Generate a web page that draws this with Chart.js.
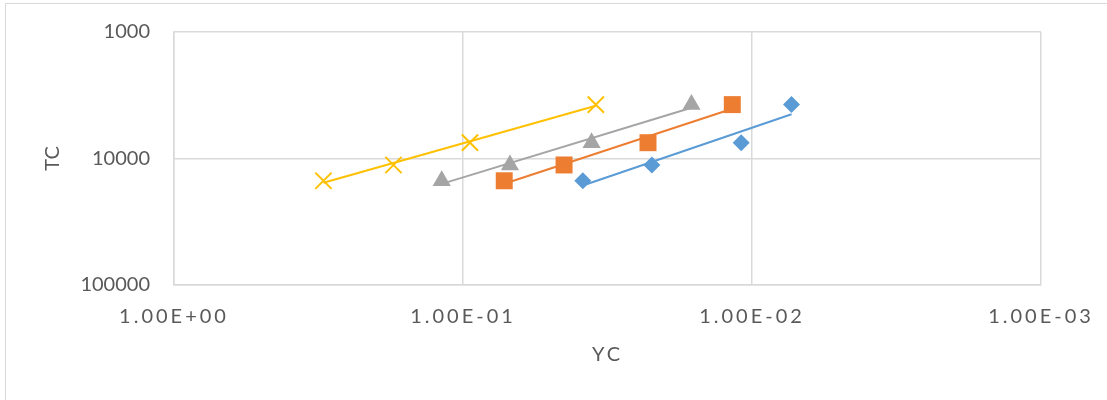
<!DOCTYPE html>
<html>
<head>
<meta charset="utf-8">
<script src="https://cdn.jsdelivr.net/npm/chart.js@4/dist/chart.umd.min.js"></script>
<style>
    html, body { margin: 0; padding: 0; background: #fff; overflow: hidden; }
    #wrap { position: relative; width: 1107px; height: 400px; }
    #frame {
        position: absolute; left: 5px; top: 3px; width: 1110px; height: 410px;
        border: 1px solid #d9d9d9; box-sizing: border-box;
    }
    #myChart { position: absolute; left: 0; top: 0; }
</style>
</head>
<body>
<div id="wrap">
    <div id="frame"></div>
    <canvas id="myChart" width="1107" height="400"></canvas>
</div>
<script>
// TC values shared by all four series
const tcValues = [15000, 11250, 7500, 3750];

// YC per series
const ycBlue = [0.0385, 0.0222, 0.0109, 0.0073];
const ycOrange = [0.072, 0.0447, 0.0229, 0.0117];
const ycGray = [0.1185, 0.0688, 0.0359, 0.0162];
const ycYellow = [0.304, 0.174, 0.0946, 0.0347];

const xTickValues = [1, 0.1, 0.01, 0.001];
const yTickValues = [1000, 10000, 100000];

const SERIES = [
    { name: 'S1', yc: ycBlue, color: '#5B9BD5', style: 'rectRot', radius: 8.5 },
    { name: 'S2', yc: ycOrange, color: '#ED7D31', style: 'rect', radius: 12 },
    { name: 'S3', yc: ycGray, color: '#A5A5A5', style: 'triangle', radius: 10.5 },
    { name: 'S4', yc: ycYellow, color: '#FFC000', style: 'crossRot', radius: 11.5 }
];

// Excel style "1.00E-01"
function sci(v) {
    const parts = v.toExponential(2).split('e');
    const exp = Number.parseInt(parts[1], 10);
    const sign = exp < 0 ? '-' : '+';
    return parts[0] + 'E' + sign + String(Math.abs(exp)).padStart(2, '0');
}

// power trendline: least squares on log-log, drawn across the x range of the data
function powerFit(xs, ys) {
    const lx = xs.map(Math.log10), ly = ys.map(Math.log10);
    const n = lx.length;
    const mx = lx.reduce((a, b) => a + b, 0) / n;
    const my = ly.reduce((a, b) => a + b, 0) / n;
    let sxy = 0, sxx = 0;
    for (let i = 0; i < n; i++) {
        sxy += (lx[i] - mx) * (ly[i] - my);
        sxx += (lx[i] - mx) * (lx[i] - mx);
    }
    const b = sxy / sxx;
    const a = my - b * mx;
    const lo = Math.min(...xs), hi = Math.max(...xs);
    return [lo, hi].map(x => ({ x: x, y: Math.pow(10, a + b * Math.log10(x)) }));
}

// log scale whose labels and title can be letter-spaced (the x axis text is spread out)
class SpacedLogScale extends Chart.LogarithmicScale {
    static id = 'spacedLog';
    static defaults = Chart.LogarithmicScale.defaults;
    drawLabels(chartArea) {
        const ctx = this.ctx;
        ctx.save();
        ctx.letterSpacing = this.options.spacing || '0px';
        super.drawLabels(chartArea);
        ctx.restore();
    }
    drawTitle() {
        const ctx = this.ctx;
        ctx.save();
        ctx.letterSpacing = this.options.spacing || '0px';
        super.drawTitle();
        ctx.restore();
    }
}
Chart.register(SpacedLogScale);

const datasets = [];
SERIES.forEach(s => {
    datasets.push({
        label: s.name,
        data: s.yc.map((x, i) => ({ x: x, y: tcValues[i] })),
        showLine: false,
        pointStyle: s.style,
        pointRadius: s.radius,
        pointBackgroundColor: s.color,
        pointBorderColor: s.color,
        pointBorderWidth: s.style === 'crossRot' ? 2 : 0,
        order: 1
    });
    datasets.push({
        label: s.name + ' trend',
        data: powerFit(s.yc, tcValues),
        showLine: true,
        borderColor: s.color,
        borderWidth: 2,
        pointRadius: 0,
        fill: false,
        order: 0
    });
});

const tickFont = { family: 'Lato', size: 20 };
const GRID = '#d9d9d9';

const chart = new Chart(document.getElementById('myChart').getContext('2d'), {
    type: 'scatter',
    data: { datasets: datasets },
    options: {
        responsive: false,
        animation: false,
        layout: { padding: { top: 32, right: 66, left: 0, bottom: 0 } },
        plugins: { legend: { display: false }, tooltip: { enabled: false } },
        scales: {
            x: {
                type: 'spacedLog',
                spacing: '3px',
                reverse: true,
                min: 0.001,
                max: 1,
                afterBuildTicks: s => { s.ticks = xTickValues.map(v => ({ value: v })); },
                afterFit: s => { s.height = 115; },
                grid: { color: GRID, lineWidth: 1.5, drawTicks: false },
                border: { color: GRID, width: 1.5 },
                ticks: {
                    color: '#595959', font: tickFont, padding: 20,
                    maxRotation: 0, autoSkip: false,
                    callback: v => sci(v)
                },
                title: {
                    display: true, text: 'YC', color: '#595959',
                    font: { family: 'Lato', size: 20 }, padding: { top: 0, bottom: 33 }
                }
            },
            y: {
                type: 'logarithmic',
                reverse: true,
                min: 1000,
                max: 100000,
                afterBuildTicks: s => { s.ticks = yTickValues.map(v => ({ value: v })); },
                afterFit: s => { s.width = 174; s.paddingTop = 0; s.paddingBottom = 0; },
                grid: { color: GRID, lineWidth: 1.5, drawTicks: false },
                border: { color: GRID, width: 1.5 },
                ticks: {
                    color: '#595959', font: tickFont, padding: 24,
                    autoSkip: false,
                    callback: v => String(v)
                },
                title: {
                    display: true, text: 'TC', color: '#595959',
                    font: { family: 'Lato', size: 20 }, padding: { top: 41, bottom: 0 }
                }
            }
        }
    }
});
</script>
</body>
</html>
